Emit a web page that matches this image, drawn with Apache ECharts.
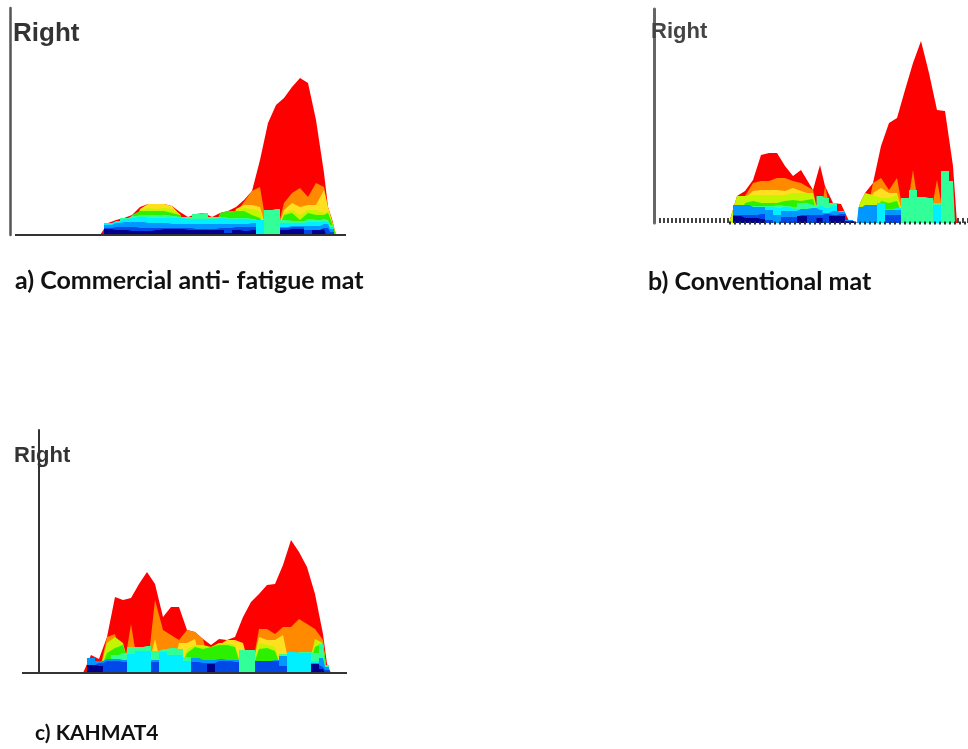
<!DOCTYPE html>
<html><head><meta charset="utf-8">
<style>html,body{margin:0;padding:0;background:#fff}#c{width:968px;height:749px}</style>
<script src="https://cdn.jsdelivr.net/npm/echarts@6/dist/echarts.min.js"></script>
</head><body><div id="c"></div>
<script>
const bandNames = ['red','orange','yellow','lime','green','spring','cyan','sky','blue','navy'];
const bandColors = ['#ff0000','#ff8a00','#ffe020','#c4f400','#2cf000','#33ff99','#00f0ff','#0098ff','#0048e8','#00008c'];
const blockyBands = ['spring','cyan','sky','blue','navy'];

const aX = [90,98,106,114,122,130,138,146,154,162,170,178,186,194,202,210,218,226,234,242,250,258,266,274,282,290,298,306,314,318,322,326];
const aRed = [0,12,15,17,20,28,31,31,31,29,23,18,21,22,18,22,24,28,35,44,75,112,130,137,148,157,152,115,62,28,16,0];
const aOrange = [0,0,0,0,0,0,0,0,0,0,0,0,0,0,0,0,0,22,33,44,48,0,0,32,42,47,38,52,48,28,14,0];
const aYellow = [0,0,0,0,0,26,31,31,31,29,20,0,0,0,0,0,0,26,30,30,28,0,0,25,32,28,30,30,45,28,14,0];
const aLime = [0,0,0,0,0,25,27,26,27,26,21,0,0,0,0,0,0,25,27,26,24,0,0,22,25,20,25,25,22,24,13,0];
const aGreen = [0,0,0,0,20,24,24,24,24,22,20,0,0,0,0,22,24,24,24,20,17,0,0,20,22,15,22,20,20,22,12,0];
const aSpring = [0,0,0,17,19,20,20,20,20,19,18,18,21,22,18,18,17,17,17,16,4,25,26,15,14,14,16,15,16,15,10,0];
const aCyan = [0,12,14,16,17,18,17,17,17,17,17,16,16,16,16,17,16,16,16,15,15,0,0,12,12,12,13,13,14,13,8,0];
const aSky = [0,10,12,13,13,13,12,12,12,11,11,11,11,11,11,11,11,11,11,12,0,0,0,8,9,9,9,9,11,11,6,0];
const aBlue = [0,7,8,8,8,7,7,7,7,7,7,7,6,6,6,7,7,8,8,8,0,0,0,7,8,8,5,5,7,7,3,0];
const aNavy = [0,6,5,5,4,4,4,5,6,6,6,5,5,5,5,5,2,5,4,5,0,0,0,5,6,6,0,5,6,0,0,0];
const aSpikesX = [277,281,286];
const aSpikes = [16,15,10];

const bX = [75,83,91,99,107,115,123,131,139,147,159,166,171,179,187,195,203,206,211,219,227,235,243,251,259,267,275,283,291,299,303];
const bRed = [0,27,32,43,68,70,70,57,47,53,33,58,37,20,19,2,0,20,30,40,77,100,105,133,160,182,150,113,112,57,0];
const bOrange = [0,0,27,40,42,42,45,45,42,40,33,0,37,0,0,0,0,0,0,40,45,33,45,0,53,0,0,43,0,0,0];
const bYellow = [0,0,25,32,33,33,33,32,35,32,28,0,25,0,0,0,0,0,0,30,35,30,30,0,0,0,0,0,0,0,0];
const bLime = [0,27,27,28,28,28,28,28,30,30,30,0,0,0,0,0,0,20,30,28,25,25,28,0,0,0,0,0,0,0,0];
const bGreen = [0,0,20,22,20,20,20,22,23,22,24,0,0,0,0,0,0,0,0,0,22,20,22,0,0,0,0,0,0,0,0];
const bSpring = [0,0,15,17,17,17,18,17,16,20,18,27,25,20,12,0,0,0,0,0,0,0,0,25,33,26,25,20,52,42,0];
const bCyan = [0,0,0,0,0,16,15,16,14,13,15,17,15,17,12,0,0,0,0,0,20,14,15,0,0,0,0,18,0,0,0];
const bSky = [0,18,18,16,16,13,8,12,12,14,15,13,10,12,11,3,0,16,18,18,0,13,13,0,0,0,0,0,0,0,0];
const bBlue = [0,8,8,8,9,3,0,6,6,8,8,8,9,8,9,2,0,0,0,0,0,8,8,0,0,0,0,0,0,0,0];
const bNavy = [0,7,5,5,4,0,0,0,0,7,0,5,0,7,7,2,0,0,0,0,0,0,0,0,0,0,0,0,0,0,0];

const cX = [44,52,60,68,76,84,92,100,108,116,124,132,140,148,156,164,172,180,188,196,204,212,220,228,236,244,252,260,268,276,284,288,292];
const cRed = [0,18,14,36,76,73,75,89,101,89,56,66,66,43,41,34,28,34,33,36,56,71,79,88,89,108,133,121,106,79,39,9,0];
const cOrange = [0,0,0,36,39,0,49,0,0,73,43,38,33,43,41,34,0,0,0,0,0,0,44,44,39,46,46,54,49,44,33,0,0];
const cYellow = [0,0,0,0,0,0,0,0,0,34,0,0,30,30,34,0,0,28,33,33,30,0,36,33,33,38,0,0,0,0,0,0,0];
const cLime = [0,0,0,30,36,30,0,0,0,0,0,0,0,24,28,28,26,30,30,28,0,0,30,28,26,0,0,0,0,34,30,0,0];
const cGreen = [0,0,0,20,25,28,0,0,0,0,0,0,0,20,26,24,26,28,28,26,0,0,24,25,22,0,0,0,0,26,30,0,0];
const cSpring = [0,0,0,0,18,20,26,26,27,22,24,25,24,16,0,0,0,0,0,0,23,23,0,0,0,19,19,21,21,20,29,8,0];
const cCyan = [0,12,0,0,0,0,19,22,22,0,21,18,18,12,0,0,0,0,0,0,0,0,0,0,0,0,21,20,20,12,0,0,0];
const cSky = [0,15,12,14,14,13,0,0,0,13,0,0,0,0,15,13,13,14,13,13,0,0,12,12,13,17,0,0,0,10,15,6,0];
const cBlue = [0,8,10,12,12,11,0,0,0,11,0,0,0,0,11,10,10,12,12,11,0,0,12,12,12,7,0,0,0,8,6,3,0];
const cNavy = [0,8,7,0,0,0,0,0,0,0,0,0,0,0,0,0,9,0,0,0,0,0,0,0,0,0,0,0,0,9,4,0,0];

const panelLabels = ['a) Commercial anti- fatigue mat','b) Conventional mat','c) KAHMAT4'];
const sideLabel = 'Right';

const panels = [
  {box:{left:10,top:8,width:336,height:227}, xMin:0, axisColor:'#555', axisWidth:2.5, x:aX, layers:[aRed,aOrange,aYellow,aLime,aGreen,aSpring,aCyan,aSky,aBlue,aNavy]},
  {box:{left:654,top:9,width:314,height:214}, xMin:0, axisColor:'#666', axisWidth:3, x:bX, layers:[bRed,bOrange,bYellow,bLime,bGreen,bSpring,bCyan,bSky,bBlue,bNavy]},
  {box:{left:22,top:430,width:325,height:243}, xMin:-17, axisColor:'#333', axisWidth:2, x:cX, layers:[cRed,cOrange,cYellow,cLime,cGreen,cSpring,cCyan,cSky,cBlue,cNavy]}
];
const zip = (xs, ys) => xs.map((v, i) => [v, ys[i]]);

const grid = [], xAxis = [], yAxis = [], series = [];
panels.forEach((p, k) => {
  grid.push(Object.assign({containLabel:false}, p.box));
  xAxis.push({type:'value', gridIndex:k, min:p.xMin, max:p.xMin + p.box.width, show:false});
  yAxis.push({type:'value', gridIndex:k, min:0, max:p.box.height,
    axisLine:{show:true, onZero:true, lineStyle:{color:p.axisColor, width:p.axisWidth}}, axisTick:{show:false}, axisLabel:{show:false}, splitLine:{show:false}});
  p.layers.forEach((vals, j) => series.push({
    name:bandNames[j], type:'line', xAxisIndex:k, yAxisIndex:k, data:zip(p.x, vals),
    symbol:'none', silent:true, clip:false,
    step: blockyBands.includes(bandNames[j]) ? 'middle' : false,
    lineStyle:{width:0}, itemStyle:{color:bandColors[j]},
    areaStyle:{color:bandColors[j], opacity:1}
  }));
});
const rule = (k, xs, h, width, type, color) => series.push({
  type:'line', xAxisIndex:k, yAxisIndex:k, data:xs.map(v => [v, h]), symbol:'none', clip:false, silent:true,
  lineStyle:{color:color||'#333', width:width, type:type||'solid'}
});
rule(0, [5,336], 0, 2);
rule(2, [-17,308], 0, 2);
rule(1, [5,75], 2.5, 5, [2,2], '#444');
rule(1, [75,314], 0, 3, [2,3], '#333');
rule(1, [303,314], 2.5, 5, [2,3], '#444');
series.push({type:'bar', xAxisIndex:0, yAxisIndex:0, data:zip(aSpikesX, aSpikes), barWidth:2, silent:true, itemStyle:{color:'#111'}});

const lab = (text, left, top, size, family, weight, color) => ({
  text, left, top, padding:0, textStyle:{fontFamily:family, fontWeight:weight, fontSize:size, color, lineHeight:size*1.2}
});
const title = [
  lab(sideLabel, 13, 18, 26, 'Liberation Sans', 'bold', '#333'),
  lab(sideLabel, 651, 19, 22, 'Liberation Sans', 'bold', '#444'),
  lab(sideLabel, 14, 443, 22, 'Liberation Sans', 'bold', '#333'),
  lab(panelLabels[0], 15, 266, 25, 'Lato', 'bold', '#111'),
  lab(panelLabels[1], 648, 267, 25, 'Lato', 'bold', '#111'),
  lab(panelLabels[2], 35, 721, 21, 'Lato', 'bold', '#111')
];
const chart = echarts.init(document.getElementById('c'), null, {renderer:'canvas'});
chart.setOption({animation:false, backgroundColor:'#fff', title, grid, xAxis, yAxis, series});
</script></body></html>
